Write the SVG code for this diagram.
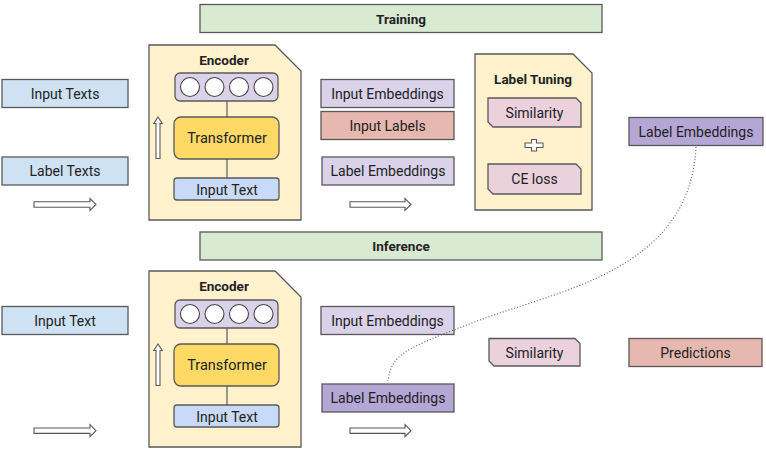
<svg xmlns="http://www.w3.org/2000/svg" width="766" height="451" viewBox="0 0 766 451">
<style>
text{font-family:Roboto,"Liberation Sans",sans-serif;font-size:14px;fill:#222;text-anchor:middle}
.b{font-weight:bold;font-size:13.5px}
.s{stroke:#595959;stroke-width:1.3}
.bar{fill:#d9ead3}
.txt{fill:#cfe2f3}
.enc{fill:#fff2cc}
.emb{fill:#d9d2e9}
.emb2{fill:#b4a7d6}
.lab{fill:#e6b8af}
.sim{fill:#ead1dc}
.tr{fill:#ffd966}
.it{fill:#c9daf8}
.circ{fill:#fff;stroke:#444;stroke-width:1.1}
.arr{fill:#fff;stroke:#595959;stroke-width:1.1}
.ln{stroke:#595959;stroke-width:1.2;fill:none}
</style>

<g id="training-bar"><rect class="bar s" x="200" y="4.5" width="402" height="28"/><text class="b" x="401" y="23.5">Training</text></g>
<g id="inference-bar"><rect class="bar s" x="200" y="232" width="402" height="28"/><text class="b" x="401" y="251">Inference</text></g>

<g id="train-input-texts"><rect class="txt s" x="2" y="79.5" width="126" height="28"/><text x="65" y="98.5">Input Texts</text></g>
<g id="train-label-texts"><rect class="txt s" x="2" y="157" width="126" height="28"/><text x="65" y="176">Label Texts</text></g>

<g id="train-encoder">
<path class="enc s" d="M149,45 H275 L301,71 V220 H149 Z"/>
<text class="b" x="224" y="65">Encoder</text>
<rect class="emb s" x="175" y="73" width="103" height="28" rx="5"/>
<circle class="circ" cx="190" cy="87" r="9.5"/><circle class="circ" cx="214.5" cy="87" r="9.5"/><circle class="circ" cx="239" cy="87" r="9.5"/><circle class="circ" cx="263.5" cy="87" r="9.5"/>
<rect class="tr s" x="174" y="117" width="105" height="42" rx="7"/>
<text x="227" y="143" style="font-size:14.5px">Transformer</text>
<rect class="it s" x="174" y="178" width="105" height="22" rx="3"/>
<text x="227" y="194.5">Input Text</text>
</g>

<g id="train-input-emb"><rect class="emb s" x="321" y="79.5" width="133" height="28"/><text x="387.5" y="98.5">Input Embeddings</text></g>
<g id="train-input-labels"><rect class="lab s" x="321" y="111.5" width="133" height="28"/><text x="387.5" y="130.5">Input Labels</text></g>
<g id="train-label-emb"><rect class="emb s" x="322" y="157" width="132" height="28"/><text x="388" y="176">Label Embeddings</text></g>

<g id="label-tuning">
<path class="enc s" d="M475,54 H573 L592,73 V210 H475 Z"/>
<text class="b" x="533" y="83.5">Label Tuning</text>
<path class="sim s" d="M488,98 H576 L581,103 V127 H493 L488,122 Z"/>
<text x="534.5" y="118">Similarity</text>
<path class="arr" d="M531.5,139.5 H536.5 V143 H543 V147.5 H536.5 V151 H531.5 V147.5 H525 V143 H531.5 Z"/>
<path class="sim s" d="M488,164 H576 L581,169 V194 H493 L488,189 Z"/>
<text x="534.5" y="184">CE loss</text>
</g>

<g id="tuned-label-emb"><rect class="emb2 s" x="629" y="117.5" width="134" height="28"/><text x="696" y="136.5">Label Embeddings</text></g>

<g id="inf-input-text"><rect class="txt s" x="2" y="306.5" width="126" height="28"/><text x="65" y="325.5">Input Text</text></g>

<g id="inf-encoder">
<path class="enc s" d="M149,271 H275 L301,297 V447 H149 Z"/>
<text class="b" x="224" y="291">Encoder</text>
<rect class="emb s" x="175" y="300" width="103" height="28" rx="5"/>
<circle class="circ" cx="190" cy="314" r="9.5"/><circle class="circ" cx="214.5" cy="314" r="9.5"/><circle class="circ" cx="239" cy="314" r="9.5"/><circle class="circ" cx="263.5" cy="314" r="9.5"/>
<rect class="tr s" x="174" y="344" width="105" height="42" rx="7"/>
<text x="227" y="370" style="font-size:14.5px">Transformer</text>
<rect class="it s" x="174" y="405" width="105" height="22" rx="3"/>
<text x="227" y="421.5">Input Text</text>
</g>

<g id="inf-input-emb"><rect class="emb s" x="321" y="306.5" width="133" height="28"/><text x="387.5" y="325.5">Input Embeddings</text></g>
<g id="inf-label-emb"><rect class="emb2 s" x="322" y="384" width="132" height="28"/><text x="388" y="403">Label Embeddings</text></g>
<g id="inf-similarity"><path class="sim s" d="M489,338.5 H575 L580,343.5 V366 H494 L489,361 Z"/><text x="534.5" y="357.5">Similarity</text></g>
<g id="predictions"><rect class="lab s" x="629" y="338.5" width="133" height="28"/><text x="695.5" y="357.5">Predictions</text></g>

<g id="block-arrows">
<path class="arr" d="M34,201.8 H90 V198.5 L96,204.5 L90,210.5 V207.2 H34 Z"/>
<path class="arr" d="M350,201.8 H405 V198.5 L411,204.5 L405,210.5 V207.2 H350 Z"/>
<path class="arr" d="M34,428 H90 V424.7 L96,430.7 L90,436.7 V433.4 H34 Z"/>
<path class="arr" d="M350,428 H405 V424.7 L411,430.7 L405,436.7 V433.4 H350 Z"/>
<path class="arr" d="M156,158.5 V123.5 H153.8 L158,117 L162.2,123.5 H160 V158.5 Z"/>
<path class="arr" d="M156,385.5 V350.5 H153.8 L158,344 L162.2,350.5 H160 V385.5 Z"/>
</g>

<g id="connectors">
<line class="ln" x1="227" y1="101" x2="227" y2="117"/>
<line class="ln" x1="227" y1="159" x2="227" y2="178"/>
<line class="ln" x1="227" y1="328" x2="227" y2="344"/>
<line class="ln" x1="227" y1="386" x2="227" y2="405"/>
<path d="M696,147 C690,270 560,290 480,320 C400,350 392,355 388,381" fill="none" stroke="#666" stroke-width="1.2" stroke-dasharray="1 2"/>
</g>
</svg>
